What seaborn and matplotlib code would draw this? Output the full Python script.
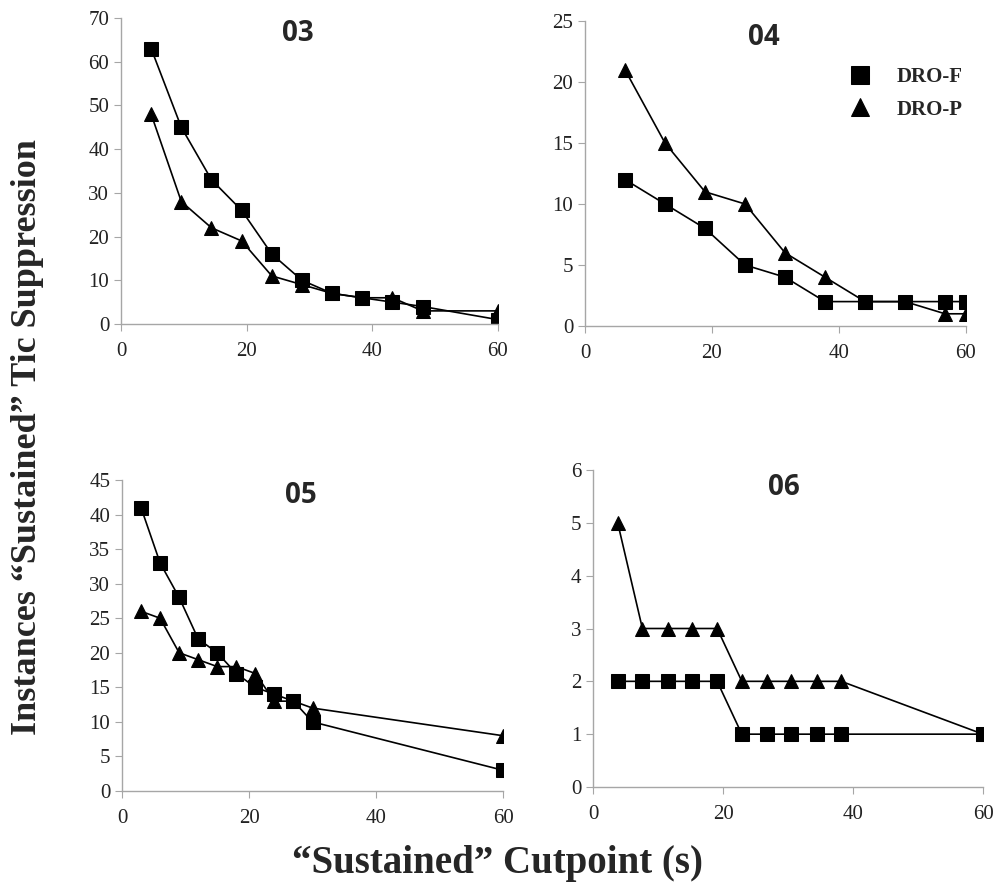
import pandas as pd
import matplotlib.pyplot as plt
import seaborn as sns

# data
x03 = [4.8, 9.6, 14.4, 19.2, 24, 28.8, 33.6, 38.4, 43.2, 48, 60]
f03 = [63, 45, 33, 26, 16, 10, 7, 6, 5, 4, 1]
p03 = [48, 28, 22, 19, 11, 9, 7, 6, 6, 3, 3]

x04 = [6.3, 12.6, 18.9, 25.2, 31.5, 37.8, 44.1, 50.4, 56.7, 60]
f04 = [12, 10, 8, 5, 4, 2, 2, 2, 2, 2]
p04 = [21, 15, 11, 10, 6, 4, 2, 2, 1, 1]

x05 = [3, 6, 9, 12, 15, 18, 21, 24, 27, 30, 60]
f05 = [41, 33, 28, 22, 20, 17, 15, 14, 13, 10, 3]
p05 = [26, 25, 20, 19, 18, 18, 17, 13, 13, 12, 8]

x06 = [3.8, 7.6, 11.5, 15.3, 19.1, 22.9, 26.7, 30.5, 34.4, 38.2, 60]
f06 = [2, 2, 2, 2, 2, 1, 1, 1, 1, 1, 1]
p06 = [5, 3, 3, 3, 3, 2, 2, 2, 2, 2, 1]

panels = [
    ('03', x03, f03, p03, 70, 10, [121, 18, 498, 324]),
    ('04', x04, f04, p04, 25, 5, [585, 21, 966, 326]),
    ('05', x05, f05, p05, 45, 5, [122, 480, 503, 791]),
    ('06', x06, f06, p06, 6, 1, [593, 470, 983, 787]),
]
title_pos = {'03': (0.47, 0.95), '04': (0.47, 0.945), '05': (0.47, 0.95), '06': (0.49, 0.945)}

sns.set_style('white')
plt.rcParams['font.family'] = ['Liberation Serif', 'DejaVu Serif']

W, H = 994, 886
fig = plt.figure(figsize=(W / 100, H / 100), dpi=100)

for name, xs, fs, ps, ymax, ystep, (l, t, r, b) in panels:
    ax = fig.add_axes([l / W, 1 - b / H, (r - l) / W, (b - t) / H])
    df = pd.DataFrame({
        'cut': xs + xs,
        'n': fs + ps,
        'cond': ['DRO-F'] * len(xs) + ['DRO-P'] * len(xs),
    })
    sns.lineplot(data=df, x='cut', y='n', style='cond', color='black',
                 markers={'DRO-F': 's', 'DRO-P': '^'}, dashes=False,
                 markersize=10, linewidth=1.2, markeredgecolor='black',
                 legend=(name == '04'), ax=ax)
    ax.set_xlim(0, 60)
    ax.set_ylim(0, ymax)
    ax.set_xticks([0, 20, 40, 60])
    ax.set_yticks(range(0, ymax + 1, ystep))
    ax.set_xlabel('')
    ax.set_ylabel('')
    for s in ['top', 'right']:
        ax.spines[s].set_visible(False)
    for s in ['left', 'bottom']:
        ax.spines[s].set_color('#a6a6a6')
        ax.spines[s].set_linewidth(1.0)
    ax.tick_params(axis='both', length=5, color='#a6a6a6', labelsize=15,
                   labelcolor='#222222', direction='out', left=True, bottom=True)
    ax.tick_params(axis='x', pad=8)
    tx, ty = title_pos[name]
    ax.text(tx, ty, name, transform=ax.transAxes, ha='center',
            va='center', fontsize=20, fontweight='bold', family='Open Sans')
    if name == '04':
        ax.legend(loc='upper right', bbox_to_anchor=(1.04, 0.91), frameon=False,
                  prop={'weight': 'bold', 'size': 15}, handlelength=1.3,
                  markerscale=1.3, labelspacing=0.6, handletextpad=1.1)
        for line in ax.get_legend().get_lines():
            line.set_linestyle('none')

fig.text(28 / W, 1 - 437 / H, 'Instances \u201cSustained\u201d Tic Suppression',
         rotation=90, ha='center', va='center', fontsize=26, fontweight='bold')
fig.text(497 / W, 1 - 864 / H, '\u201cSustained\u201d Cutpoint (s)',
         ha='center', va='center', fontsize=28, fontweight='bold')

fig.savefig('out.png', dpi=100)
